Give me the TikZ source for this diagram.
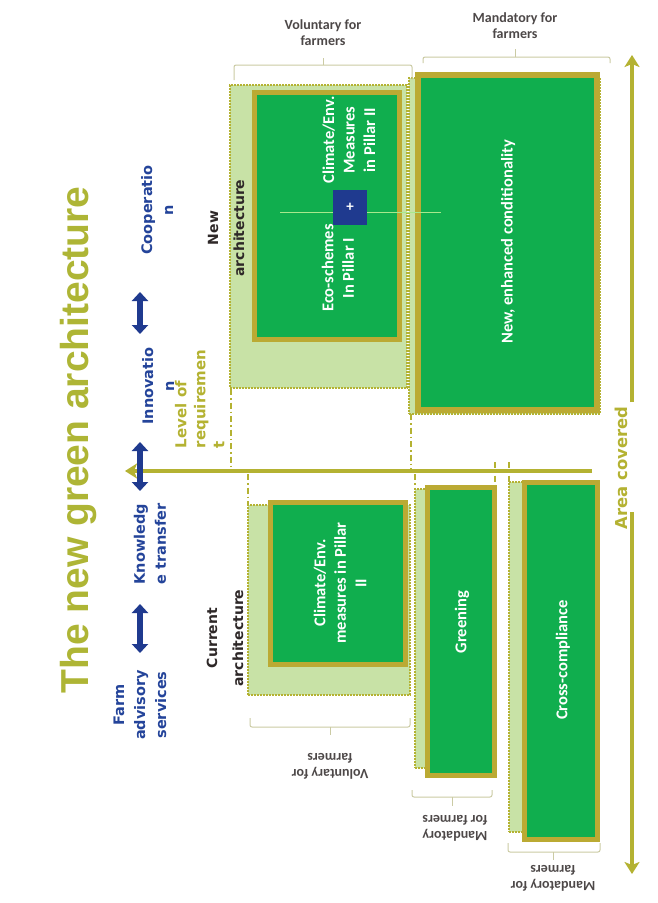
\documentclass[tikz,border=0pt]{standalone}
\usepackage{fontspec}
\setmainfont{Carlito}
\newfontfamily\dvfont{DejaVu Sans}
\newfontfamily\titlefnt{Liberation Sans}
\usetikzlibrary{arrows.meta}
\definecolor{titleol}{HTML}{AEB535}
\definecolor{boxol}{HTML}{BBAA33}
\definecolor{axol}{HTML}{B4B232}
\definecolor{gfill}{HTML}{10AE4E}
\definecolor{lgfill}{HTML}{C8E2A6}
\definecolor{navy}{HTML}{1F3A8F}
\definecolor{bluetxt}{HTML}{24449A}
\definecolor{brk}{HTML}{CBCBA4}
\definecolor{darktxt}{HTML}{2E2828}
\definecolor{thinline}{HTML}{A8E88C}
\begin{document}
\begin{tikzpicture}[x=1pt,y=-1pt,
  every node/.style={inner sep=0pt, outer sep=0pt},
  bgbox/.style={fill=lgfill, draw=axol, line width=1.2pt, dash pattern=on 2pt off 1pt},
  gbox/.style={fill=gfill, draw=boxol, line width=5pt},
  gtext/.style={text=white, font=\bfseries\fontsize{16.5}{20.5}\selectfont, align=center, rotate=90},
  btext/.style={text=bluetxt, font=\dvfont\bfseries\fontsize{14.5}{21}\selectfont, align=center, rotate=90},
  dtext/.style={text=darktxt, font=\dvfont\bfseries\fontsize{14}{26}\selectfont, align=center, rotate=90},
  blabel/.style={text=darktxt!85, font=\bfseries\fontsize{14}{16}\selectfont, align=center},
  bracket/.style={draw=brk, line width=1pt, rounded corners=2pt},
  guide/.style={draw=axol, line width=1.4pt, dash pattern=on 6pt off 3pt on 1.5pt off 3pt},
  bluearrow/.style={draw=navy, line width=6pt, {Triangle[width=16pt,length=9pt]}-{Triangle[width=16pt,length=9pt]}},
  olarrow/.style={draw=axol, line width=3.5pt, -{Stealth[width=15pt,length=12pt,inset=3pt]}},
]
\fill[white] (0,0) rectangle (657,903);
\useasboundingbox (0,0) rectangle (657,903);

% title
\node[rotate=90, text=titleol, font=\titlefnt\bfseries\fontsize{39}{44}\selectfont] (title) at (79,440) {The new green architecture};

% blue texts
\node[btext] (coop) at (157,210) {Cooperatio\\n};
\node[btext] (innov) at (158,386) {Innovatio\\n};
\node[btext] (know) at (150,544) {Knowledg\\e transfer};
\node[btext] (farm) at (140,705) {Farm\\advisory\\services};

% axis (level of requirement)
\coordinate (axR) at (592,471);
\coordinate (axL) at (125,471);
\draw[olarrow] (axR) -- (axL);

% blue double arrows
\coordinate (b1a) at (140,292); \coordinate (b1b) at (140,334);
\coordinate (b2a) at (140,442); \coordinate (b2b) at (140,491);
\coordinate (b3a) at (140,604); \coordinate (b3b) at (140,653);
\draw[bluearrow] (b1a) -- (b1b);
\draw[bluearrow] (b2a) -- (b2b);
\draw[bluearrow] (b3a) -- (b3b);

% level of requirement
\node[rotate=90, anchor=north west, align=left, text=axol, font=\dvfont\bfseries\fontsize{15}{19}\selectfont] (level) at (175,448) {Level of\\requiremen\\t};

% new architecture boxes
\node[bgbox, minimum width=177pt, minimum height=303pt] (newbg) at (318.5,236.5) {};
\node[gbox, minimum width=145pt, minimum height=247pt] (ecobox) at (327,216) {};
\coordinate (tl1) at (280,212); \coordinate (tl2) at (441,212);
\node[bgbox, minimum width=191pt, minimum height=336pt] (condbg) at (504.5,246) {};
\node[gbox, line width=6pt, minimum width=179pt, minimum height=335pt] (condbox) at (507.5,242.5) {};
\draw[thinline, line width=1pt] (tl1) -- (tl2);
\node[fill=navy, minimum width=34pt, minimum height=35pt, text=white, font=\bfseries\fontsize{15}{15}\selectfont] (plus) at (350,207.5) {+};
\node[gtext] (eco) at (338,268) {Eco-schemes\\In Pillar I};
\node[gtext] (clim) at (349,140) {Climate/Env.\\Measures\\in Pillar II};
\node[gtext] (cond) at (508,242) {New, enhanced conditionality};

% current architecture boxes
\node[bgbox, minimum width=162pt, minimum height=190pt] (curbg) at (329,600) {};
\node[gbox, minimum width=135pt, minimum height=162pt] (curbox) at (338,583.5) {};
\node[gtext] (curclim) at (340,583) {Climate/Env.\\measures in Pillar\\II};
\node[bgbox, minimum width=77pt, minimum height=279pt] (greenbg) at (453.5,628.5) {};
\node[gbox, minimum width=67pt, minimum height=288pt] (greenbox) at (461,631.5) {};
\node[gtext] (greening) at (462,622) {Greening};
\node[bgbox, minimum width=81pt, minimum height=350pt] (crossbg) at (549.5,657) {};
\node[gbox, minimum width=73pt, minimum height=357pt] (crossbox) at (561,661) {};
\node[gtext] (cross) at (563,660) {Cross-compliance};

% architecture labels (on top of the boxes)
\node[dtext] (newarch) at (226,228) {New\\architecture};
\node[dtext] (curarch) at (225,638) {Current\\architecture};

% guide lines
\coordinate (g1a) at (231,389); \coordinate (g1b) at (231,469);
\coordinate (g2a) at (411,414); \coordinate (g2b) at (411,469);
\coordinate (g3a) at (248,474); \coordinate (g3b) at (248,505);
\coordinate (g4a) at (415,474); \coordinate (g4b) at (415,488);
\coordinate (g5a) at (495,462); \coordinate (g5b) at (495,486);
\coordinate (g6a) at (509,462); \coordinate (g6b) at (509,482);
\draw[guide] (g1a) -- (g1b);
\draw[guide] (g2a) -- (g2b);
\draw[guide] (g3a) -- (g3b);
\draw[guide] (g4a) -- (g4b);
\draw[guide] (g5a) -- (g5b);
\draw[guide] (g6a) -- (g6b);

% area covered
\node[rotate=90, text=axol, font=\dvfont\bfseries\fontsize{16.4}{20}\selectfont] (area) at (621,468) {Area covered};
\coordinate (ac1) at (632,402); \coordinate (ac2) at (632,55);
\coordinate (ac3) at (632,512); \coordinate (ac4) at (632,874);
\draw[olarrow] (ac1) -- (ac2);
\draw[olarrow] (ac3) -- (ac4);

% brackets and labels
\draw[bracket] (234,80) -- (234,65) -- (412,65) -- (412,80);
\draw[bracket] (323,65) -- (323,58);
\node[blabel] (topvol) at (323,33) {Voluntary for\\farmers};
\draw[bracket] (423,63) -- (423,57) -- (610,57) -- (610,63);
\draw[bracket] (515,57) -- (515,49);
\node[blabel] (topmand) at (515,26) {Mandatory for\\farmers};

\draw[bracket] (250,718) -- (250,727) -- (410,727) -- (410,718);
\draw[bracket] (330,727) -- (330,735);
\node[blabel, rotate=180] (botvol) at (330,766) {Voluntary for\\farmers};
\draw[bracket] (412,790) -- (412,797) -- (492,797) -- (492,790);
\draw[bracket] (452,797) -- (452,806);
\node[blabel, rotate=180] (botgreen) at (455,828) {Mandatory\\for farmers};
\draw[bracket] (508,843) -- (508,852) -- (600,852) -- (600,843);
\draw[bracket] (553,852) -- (553,860);
\node[blabel, rotate=180] (botcross) at (553,878) {Mandatory for\\farmers};
\end{tikzpicture}
\end{document}
